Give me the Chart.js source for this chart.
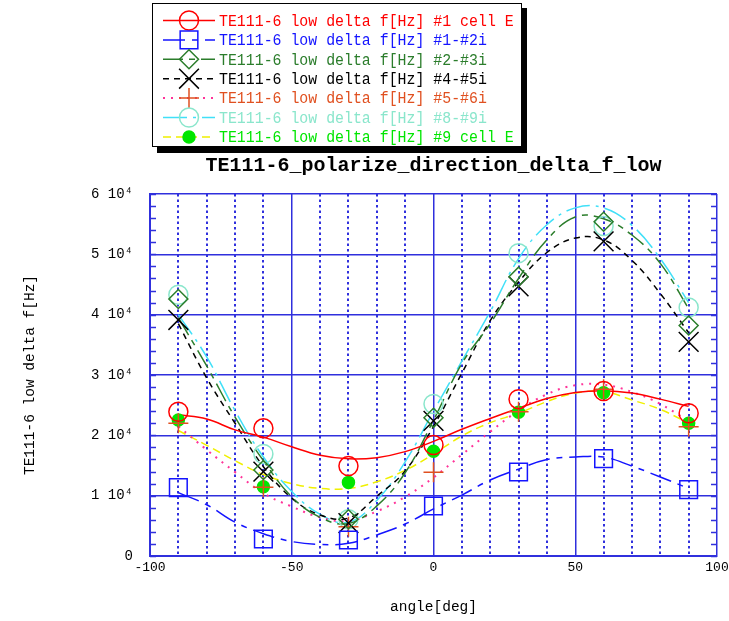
<!DOCTYPE html>
<html>
<head>
<meta charset="utf-8">
<script src="https://cdn.jsdelivr.net/npm/chart.js@4.4.1/dist/chart.umd.min.js"></script>
<style>
  html, body { margin: 0; padding: 0; background: #fff; }
</style>
</head>
<body>
<canvas id="chartDelta" width="729" height="621"></canvas>
<script>
// measured points
const angles = [-90, -60, -30, 0, 30, 60, 90];
const cellE1 = [23900, 21160, 14900, 18400, 26000, 27350, 23650];
const cell12 = [11330, 2820, 2650, 8290, 13920, 16130, 10990];
const cell23 = [42600, 14250, 6100, 22900, 46300, 55400, 38200];
const cell45 = [39120, 13980, 5450, 22400, 44700, 52150, 35500];
const cell56 = [21990, 11380, 4830, 13900, 23900, 27650, 21440];
const cell89 = [43300, 16900, 6100, 25200, 50200, 54700, 41200];
const cellE9 = [22540, 11470, 12200, 17350, 23840, 27050, 21990];

// fitted curves, read every 10 deg
const fitAngles = [-90, -80, -70, -60, -50, -40, -30, -20, -10, 0, 10, 20, 30, 40, 50, 60, 70, 80, 90];
const fitE1 = [23400, 22700, 20900, 19700, 18100, 16700, 16100, 16300, 17300, 19000, 21000, 22800, 24500, 26100, 27100, 27400, 27000, 26000, 24800];
const fit12 = [10500, 8500, 5600, 3700, 2400, 1900, 2100, 3500, 5300, 7800, 10100, 12600, 14400, 16000, 16400, 16400, 14900, 13100, 11200];
const fit23 = [39500, 31500, 23000, 15800, 9800, 6400, 5400, 8300, 13800, 22500, 31900, 38500, 46000, 52400, 56200, 55900, 53200, 48500, 41000];
const fit45 = [38500, 29500, 22000, 14800, 9600, 6800, 6300, 9900, 14100, 21500, 30300, 39000, 45400, 50300, 52700, 52400, 49000, 43500, 37000];
const fit56 = [21500, 17600, 13900, 10400, 8200, 6400, 5800, 7400, 9800, 13000, 16800, 20600, 24100, 26800, 28300, 28400, 27200, 25200, 22300];
const fit89 = [40000, 33000, 24100, 16400, 10700, 6900, 5600, 9200, 15600, 24000, 32300, 40500, 49300, 54900, 57700, 57700, 54800, 49300, 42000];
const fitE9 = [20800, 18350, 15800, 13500, 12000, 11200, 11200, 12300, 14200, 16900, 19900, 22100, 23650, 25600, 27000, 27240, 25860, 24300, 22000];

const seriesLabels = [
  'TE111-6 low delta f[Hz] #1 cell E',
  'TE111-6 low delta f[Hz] #1-#2i',
  'TE111-6 low delta f[Hz] #2-#3i',
  'TE111-6 low delta f[Hz] #4-#5i',
  'TE111-6 low delta f[Hz] #5-#6i',
  'TE111-6 low delta f[Hz] #8-#9i',
  'TE111-6 low delta f[Hz] #9 cell E'
];
const yTickLabels = ['0', '1 10\u2074', '2 10\u2074', '3 10\u2074', '4 10\u2074', '5 10\u2074', '6 10\u2074'];
const xTickLabels = ['-100', '-50', '0', '50', '100'];

const GRID = '#3030dd';
const MONO = '"Liberation Mono", "DejaVu Sans Mono", monospace';

const series = [
  { meas: cellE1, fit: fitE1, line: '#ff0000', dash: [], width: 1.5, style: 'circle', r: 9.5, mark: '#ff0000', fill: 'rgba(0,0,0,0)', text: '#ff0000' },
  { meas: cell12, fit: fit12, line: '#1414ff', dash: [22, 7, 6, 7], width: 1.5, style: 'rect', r: 12.5, mark: '#1414ff', fill: 'rgba(0,0,0,0)', text: '#1414ff' },
  { meas: cell23, fit: fit23, line: '#2b7d2b', dash: [20, 6, 6, 6], width: 1.5, style: 'rectRot', r: 9.5, mark: '#2b7d2b', fill: 'rgba(0,0,0,0)', text: '#2b7d2b' },
  { meas: cell45, fit: fit45, line: '#000000', dash: [6, 5], width: 1.5, style: 'crossRot', r: 14, mark: '#000000', fill: 'rgba(0,0,0,0)', text: '#000000' },
  { meas: cell56, fit: fit56, line: '#ff3399', dash: [2, 6], width: 2, style: 'cross', r: 10, mark: '#e05020', fill: 'rgba(0,0,0,0)', text: '#e05020' },
  { meas: cell89, fit: fit89, line: '#40e0f8', dash: [24, 6, 3, 6], width: 1.5, style: 'circle', r: 9.5, mark: '#8ae6cc', fill: 'rgba(0,0,0,0)', text: '#8ae6cc' },
  { meas: cellE9, fit: fitE9, line: '#f0f000', dash: [8, 5], width: 1.5, style: 'circle', r: 6, mark: '#00e600', fill: '#00e600', text: '#00e600' }
];

let datasets = [];
series.forEach((s, i) => {
  datasets.push({
    label: seriesLabels[i] + ' fit',
    data: fitAngles.map((a, k) => ({ x: a, y: s.fit[k] })),
    borderColor: s.line,
    borderDash: s.dash,
    borderWidth: s.width,
    pointRadius: 0,
    tension: 0.4,
    fill: false,
    order: 1
  });
  datasets.push({
    label: seriesLabels[i],
    data: angles.map((a, k) => ({ x: a, y: s.meas[k] })),
    showLine: false,
    pointStyle: s.style,
    pointRadius: s.r,
    pointBorderColor: s.mark,
    pointBackgroundColor: s.fill,
    pointBorderWidth: 1.5,
    order: 0
  });
});

/* small inside ticks on left and right every 2000 */
const sideTicks = {
  id: 'sideTicks',
  beforeDatasetsDraw(chart) {
    const ctx = chart.ctx;
    const y = chart.scales.y;
    const a = chart.chartArea;
    ctx.save();
    ctx.strokeStyle = GRID;
    ctx.lineWidth = 1.5;
    for (let v = 0; v <= 60000; v += 2000) {
      const py = Math.round(y.getPixelForValue(v)) + 0.5;
      ctx.beginPath();
      ctx.moveTo(a.left, py); ctx.lineTo(a.left + 6, py);
      ctx.moveTo(a.right, py); ctx.lineTo(a.right - 6, py);
      ctx.stroke();
    }
    ctx.restore();
  }
};

/* legend box with line samples */
const legendBox = {
  id: 'legendBox',
  afterDraw(chart) {
    const ctx = chart.ctx;
    ctx.save();
    ctx.fillStyle = '#000';
    ctx.fillRect(157, 8, 370, 145);
    ctx.fillStyle = '#fff';
    ctx.fillRect(152, 3, 370, 144);
    ctx.strokeStyle = '#000';
    ctx.lineWidth = 1;
    ctx.strokeRect(152.5, 3.5, 369, 143);

    series.forEach((s, i) => {
      const y = 20.5 + i * 19.4;
      ctx.save();
      ctx.strokeStyle = s.line;
      ctx.lineWidth = s.width;
      ctx.setLineDash(s.dash);
      ctx.beginPath();
      ctx.moveTo(163, y); ctx.lineTo(215, y);
      ctx.stroke();
      ctx.restore();

      ctx.save();
      ctx.strokeStyle = s.mark;
      ctx.fillStyle = s.fill;
      ctx.lineWidth = 1.5;
      Chart.helpers.drawPoint(ctx, { pointStyle: s.style, radius: s.r, borderWidth: 1.5, rotation: 0 }, 189, y);
      ctx.restore();

      ctx.save();
      ctx.fillStyle = s.text;
      ctx.font = '16px ' + MONO;
      ctx.textBaseline = 'middle';
      ctx.translate(219, y + 1);
      ctx.scale(0.93, 1);
      ctx.fillText(seriesLabels[i], 0, 0);
      ctx.restore();
    });
    ctx.restore();
  }
};

const cvs = document.getElementById('chartDelta');
const chartDelta = new Chart(cvs, {
  type: 'line',
  data: { datasets: datasets },
  plugins: [sideTicks, legendBox],
  options: {
    responsive: false,
    animation: false,
    layout: { autoPadding: false, padding: 0 },
    plugins: {
      legend: { display: false },
      tooltip: { enabled: false },
      title: {
        display: true,
        fullSize: false,
        text: 'TE111-6_polarize_direction_delta_f_low',
        color: '#000',
        font: { family: MONO, size: 20, weight: 'bold' },
        padding: { top: 154, bottom: 16 }
      }
    },
    scales: {
      x: {
        type: 'linear',
        min: -100,
        max: 100,
        ticks: {
          stepSize: 10,
          autoSkip: false,
          maxRotation: 0,
          padding: 4,
          color: '#000',
          font: { family: MONO, size: 13 },
          callback: (v) => (v % 50 === 0 ? xTickLabels[(v + 100) / 50] : '')
        },
        grid: {
          color: GRID,
          drawTicks: false,
          lineWidth: (c) => (c.tick && c.tick.value % 50 !== 0 ? 2 : 1.5)
        },
        border: {
          color: GRID,
          width: 2,
          dash: (c) => (c.tick && c.tick.value % 50 !== 0 ? [2.5, 3] : [])
        },
        title: {
          display: true,
          text: 'angle[deg]',
          color: '#000',
          font: { family: MONO, size: 14.5 },
          padding: { top: 0, bottom: 5 }
        },
        afterFit: (s) => { s.height = 65; s.paddingLeft = 0; s.paddingRight = 12; }
      },
      y: {
        type: 'linear',
        min: 0,
        max: 60000,
        ticks: {
          stepSize: 10000,
          padding: 17,
          color: '#000',
          font: { family: MONO, size: 14 },
          callback: (v) => yTickLabels[Math.round(v / 10000)]
        },
        grid: { color: GRID, lineWidth: 1.5, drawTicks: false },
        border: { color: GRID, width: 2 },
        title: {
          display: true,
          text: 'TE111-6 low delta f[Hz]',
          color: '#000',
          font: { family: MONO, size: 14.5 },
          padding: { top: 21, bottom: 0 }
        },
        afterFit: (s) => { s.width = 150; s.paddingTop = 0; s.paddingBottom = 0; }
      }
    }
  }
});
</script>
</body>
</html>
